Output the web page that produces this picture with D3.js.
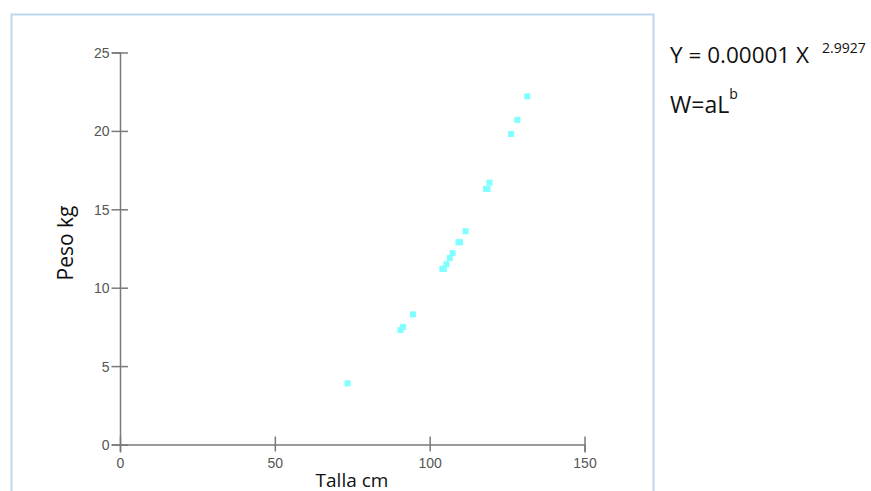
<!DOCTYPE html>
<html>
<head>
<meta charset="utf-8">
<title>Talla - Peso</title>
<script src="https://cdn.jsdelivr.net/npm/d3@7"></script>
<style>
  body { margin: 0; background: #fff; }
  svg { display: block; }
</style>
</head>
<body>
<script>
// datos
var talla = [73.5, 90.6, 91.4, 94.6, 104.1, 104.6, 105.4, 106.5, 107.4, 109.3, 109.8, 111.6, 118.2, 118.7, 119.3, 126.3, 128.3, 131.5];
var peso  = [3.9, 7.3, 7.5, 8.3, 11.2, 11.2, 11.5, 11.9, 12.2, 12.9, 12.9, 13.6, 16.3, 16.3, 16.7, 19.8, 20.7, 22.2];
var xTicks = [0, 50, 100, 150];
var yTicks = [0, 5, 10, 15, 20, 25];

var width = 871, height = 491;
var svg = d3.select('body').append('svg').attr('width', width).attr('height', height);

// marco azul claro
svg.append('rect')
    .attr('x', 11.5).attr('y', 14.5)
    .attr('width', 642).attr('height', 500)
    .attr('fill', 'none')
    .attr('stroke', '#bdd7ee')
    .attr('stroke-width', 2);

var x = d3.scaleLinear().domain([0, 150]).range([120, 584.5]);
var y = d3.scaleLinear().domain([0, 25]).range([444.5, 52.5]);

var axisColor = '#7a7a7a';
var labelColor = '#555';

// eje x
var gx = svg.append('g').attr('transform', 'translate(0,' + y(0) + ')')
    .call(d3.axisBottom(x).tickValues(xTicks).tickSizeOuter(0).tickSize(8));
gx.selectAll('line').attr('y1', -8).attr('y2', 7);
gx.selectAll('text').attr('y', 18.5).attr('dy', '0.35em');

// eje y
var gy = svg.append('g').attr('transform', 'translate(' + x(0) + ',0)')
    .call(d3.axisLeft(y).tickValues(yTicks).tickSizeOuter(0).tickSize(8));
gy.selectAll('line').attr('x1', -8.5).attr('x2', 8);
gy.selectAll('text').attr('x', -10.5).attr('dy', '0.35em');

svg.selectAll('.domain, .tick line').attr('stroke', axisColor).attr('stroke-width', 1.5);
svg.selectAll('.tick text')
    .attr('fill', labelColor)
    .attr('font-family', 'Liberation Sans, Arial, sans-serif')
    .attr('font-size', 14);

// puntos
svg.selectAll('rect.punto').data(talla).enter().append('rect')
    .attr('class', 'punto')
    .attr('x', function (d) { return x(d) - 3; })
    .attr('y', function (d, i) { return y(peso[i]) - 3; })
    .attr('width', 6)
    .attr('height', 6)
    .attr('fill', '#7fffff');

// titulos de ejes
svg.append('text')
    .text('Talla cm')
    .attr('x', 352).attr('y', 487)
    .attr('text-anchor', 'middle')
    .attr('font-family', 'Open Sans, sans-serif')
    .attr('font-size', 19)
    .attr('fill', '#111');

svg.append('text')
    .text('Peso kg')
    .attr('transform', 'translate(72.5,243) rotate(-90)')
    .attr('text-anchor', 'middle')
    .attr('font-family', 'Open Sans, sans-serif')
    .attr('font-size', 21)
    .attr('fill', '#111');

// ecuaciones
var eq1 = svg.append('text')
    .attr('x', 670).attr('y', 63)
    .attr('font-family', 'Open Sans, sans-serif')
    .attr('font-size', 22.5)
    .attr('fill', '#111');
eq1.append('tspan').text('Y = 0.00001 X');
eq1.append('tspan').text('2.9927').attr('x', 822).attr('y', 53).attr('font-size', 14);

var eq2 = svg.append('text')
    .attr('x', 670).attr('y', 113)
    .attr('font-family', 'Open Sans, sans-serif')
    .attr('font-size', 23)
    .attr('fill', '#111');
eq2.append('tspan').text('W=aL');
eq2.append('tspan').text('b').attr('y', 99).attr('font-size', 14);
</script>
</body>
</html>
